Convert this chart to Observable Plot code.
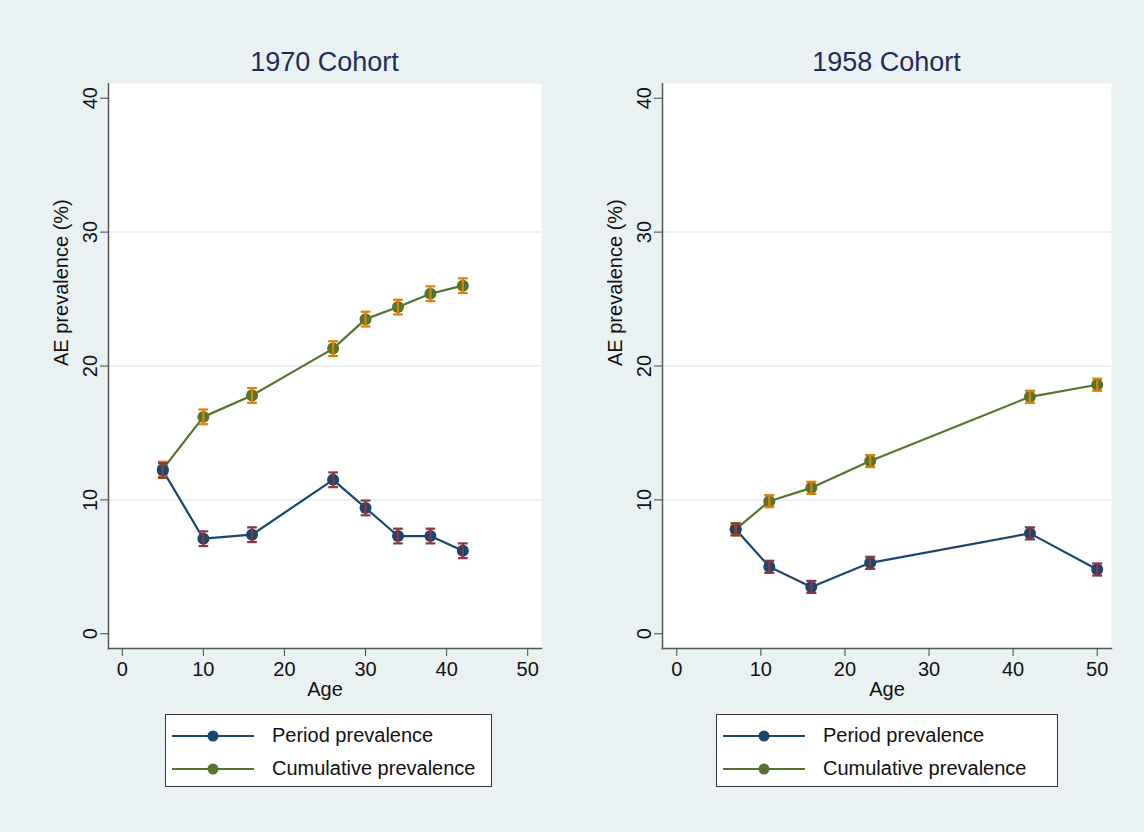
<!DOCTYPE html>
<html><head><meta charset="utf-8">
<script src="https://cdn.jsdelivr.net/npm/d3@7"></script>
<script src="https://cdn.jsdelivr.net/npm/@observablehq/plot@0.6"></script>
<style>
body{margin:0;background:#fff;font-family:Arial,"Liberation Sans",sans-serif}
#page{position:relative;width:1144px;height:832px;background:#eaf1f3}
.panel{position:absolute;top:0;height:832px}
.title{position:absolute;top:47px;text-align:center;font-size:27px;color:#1e2c5a}
.plot{position:absolute;top:83px;left:0}
.legend{position:absolute;top:714px;height:73px;background:#fff;border:1.5px solid #333;box-sizing:border-box;font-size:20px;color:#111}
.legend div{position:absolute;left:6px;display:flex;align-items:center;white-space:nowrap}
.legend svg{margin-right:18px}
</style></head><body><div id="page"></div>
<script>
const ages1970 = [5,10,16,26,30,34,38,42];
const period1970 = [12.2,7.1,7.4,11.5,9.4,7.3,7.3,6.2];
const cumul1970 = [12.3,16.2,17.8,21.3,23.5,24.4,25.4,26.0];
const ci1970 = 0.55;
const ages1958 = [7,11,16,23,42,50];
const period1958 = [7.8,5.0,3.5,5.3,7.5,4.8];
const cumul1958 = [7.8,9.9,10.9,12.9,17.7,18.6];
const ci1958 = 0.45;
const xTicks = [0,10,20,30,40,50];
const yTicks = [0,10,20,30,40];
const gridY = [10,20,30];
const navy = "#1a476f", maroon = "#90353b", green = "#55752f", orange = "#e37e00";

function panel(title, ages, per, cum, ci, left, width, legLeft, legWidth) {
  const rows = (vals) => ages.map((a, i) => ({age: a, v: vals[i]}));
  const P = rows(per), C = rows(cum);
  const bars = (data, color) => [
    Plot.ruleX(data, {x: "age", y1: d => d.v - ci, y2: d => d.v + ci, stroke: color, strokeWidth: 2.2}),
    Plot.link(data, {x1: d => d.age - 0.6, x2: d => d.age + 0.6, y1: d => d.v - ci, y2: d => d.v - ci, stroke: color, strokeWidth: 2.2}),
    Plot.link(data, {x1: d => d.age - 0.6, x2: d => d.age + 0.6, y1: d => d.v + ci, y2: d => d.v + ci, stroke: color, strokeWidth: 2.2})
  ];
  const chart = Plot.plot({
    width, height: 627,
    marginLeft: 108, marginRight: 19, marginTop: 0, marginBottom: 62,
    style: {background: "transparent", fontSize: "20px", fontFamily: "Arial, Liberation Sans, sans-serif", color: "#111"},
    x: {domain: [-1.7, 51.7]},
    y: {domain: [-1.1, 41.1]},
    marks: [
      Plot.frame({fill: "#fff", stroke: "none"}),
      Plot.ruleY(gridY, {stroke: "#e2ecef", strokeWidth: 1.5}),
      Plot.axisX({ticks: xTicks, tickSize: 8, tickPadding: 5, label: null, stroke: "#444"}),
      Plot.axisY({ticks: yTicks, tickSize: 8, tickPadding: 4, tickRotate: -90, label: null, stroke: "#444"}),
      Plot.frame({anchor: "left", stroke: "#555", strokeWidth: 1.5}),
      Plot.frame({anchor: "bottom", stroke: "#555", strokeWidth: 1.5}),
      Plot.text(["Age"], {frameAnchor: "bottom", dy: 47, fontSize: 20, fill: "#111"}),
      Plot.text(["AE prevalence (%)"], {frameAnchor: "left", dx: -47, rotate: -90, fontSize: 20, fill: "#111"}),
      Plot.line(C, {x: "age", y: "v", stroke: green, strokeWidth: 2.2}),
      Plot.line(P, {x: "age", y: "v", stroke: navy, strokeWidth: 2.2}),
      Plot.dot(C, {x: "age", y: "v", fill: green, r: 6}),
      Plot.dot(P, {x: "age", y: "v", fill: navy, r: 6}),
      ...bars(C, orange),
      ...bars(P, maroon)
    ]
  });
  const div = d3.select("#page").append("div").attr("class", "panel").style("left", left + "px").style("width", width + "px");
  div.append("div").attr("class", "title").style("left", "108px").style("width", (width - 127) + "px").text(title);
  div.append("div").attr("class", "plot").node().append(chart);
  const leg = div.append("div").attr("class", "legend").style("left", legLeft + "px").style("width", legWidth + "px");
  [["Period prevalence", navy, 9], ["Cumulative prevalence", green, 42]].forEach(([t, c, top]) => {
    leg.append("div").style("top", top + "px").html(
      `<svg width="82" height="14"><line x1="0" x2="82" y1="7" y2="7" stroke="${c}" stroke-width="2.2"/><circle cx="41" cy="7" r="5.5" fill="${c}"/></svg><span>${t}</span>`);
  });
}
panel("1970 Cohort", ages1970, period1970, cumul1970, ci1970, 0, 560, 165, 327);
panel("1958 Cohort", ages1958, period1958, cumul1958, ci1958, 554, 576, 162, 342);
</script></body></html>
